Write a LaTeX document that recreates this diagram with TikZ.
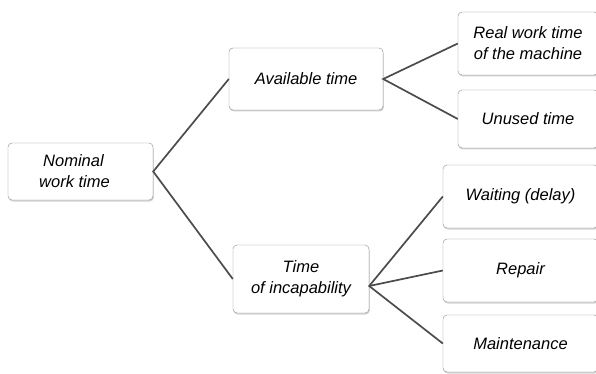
\documentclass[tikz,border=0pt]{standalone}
\usepackage{fontspec}
\setmainfont{Liberation Sans}
\usetikzlibrary{shadows}
\tikzset{
  tbox/.style={rectangle, rounded corners=4pt, draw=black!45, fill=white,
    align=center, inner sep=0pt, font=\itshape\fontsize{16.5}{21}\selectfont,
    drop shadow={opacity=0.35, shadow xshift=0.8pt, shadow yshift=-1.5pt}},
  tline/.style={draw=black!70, line width=1.7pt}
}
\begin{document}
\begin{tikzpicture}[x=1pt,y=-1pt]
\clip (0,0) rectangle (596,374);
\fill [white] (0,0) rectangle (596,374);
\node [tbox, minimum width=145pt, minimum height=57pt] (nominal) at (80.5,171.5) {Nominal\hspace*{14pt}\\work time\hspace*{12pt}};
\node [tbox, minimum width=154pt, minimum height=62pt] (avail) at (306,79) {Available time};
\node [tbox, minimum width=136pt, minimum height=68pt] (incap) at (301,279) {Time\\of incapability};
\node [tbox, minimum width=140pt, minimum height=63pt] (real) at (528,43.5) {Real work time\\of the machine};
\node [tbox, minimum width=140pt, minimum height=58pt] (unused) at (528,119) {Unused time};
\node [tbox, minimum width=155pt, minimum height=63pt] (wait) at (520.5,196.5) {Waiting (delay)};
\node [tbox, minimum width=155pt, minimum height=63pt] (repair) at (520.5,270.5) {Repair};
\node [tbox, minimum width=155pt, minimum height=57pt] (maint) at (520.5,343.5) {Maintenance};
% connectors
\draw [tline] (avail.west) -- (nominal.east) -- (incap.west);
\draw [tline] (real.west) -- (avail.east) -- (unused.west);
\draw [tline] (wait.west) -- ([yshift=-7pt]incap.east) -- (maint.west);
\draw [tline] ([yshift=-7pt]incap.east) -- (repair.west);
\end{tikzpicture}
\end{document}
